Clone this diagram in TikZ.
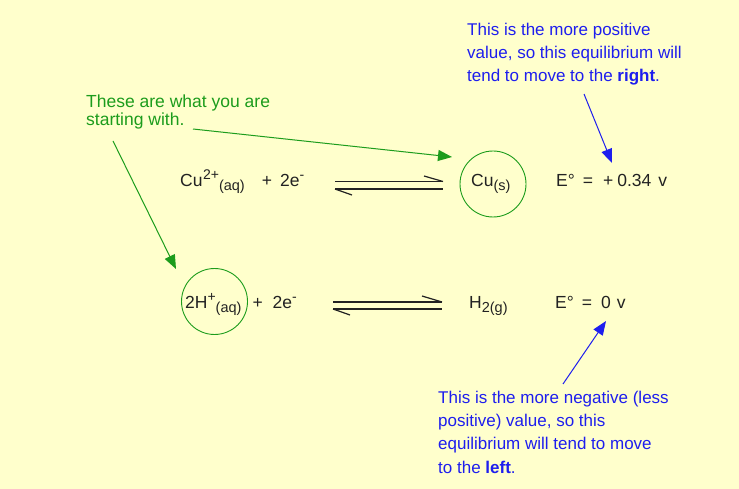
\documentclass[tikz,border=0pt]{standalone}
\usepackage{fontspec}
\setmainfont{Liberation Sans}
\usetikzlibrary{arrows.meta}
\definecolor{bg}{HTML}{FFFFCC}
\definecolor{grn}{HTML}{1C9C1C}
\definecolor{blu}{HTML}{1E1EEE}
\definecolor{ink}{HTML}{222222}
\newcommand{\myup}[1]{\raisebox{6.5pt}{\fontsize{14}{14}\selectfont #1}}
\newcommand{\mydn}[1]{\raisebox{-4pt}{\fontsize{14.5}{14.5}\selectfont #1}}
\begin{document}
\begin{tikzpicture}[x=1pt,y=-1pt,
  txt/.style={inner sep=0pt, anchor=base west, text=ink, font=\fontsize{17.5}{17.5}\selectfont},
  bnote/.style={inner sep=0pt, anchor=base west, align=left, text=blu, font=\fontsize{17}{23.3}\selectfont},
  gnote/.style={inner sep=0pt, anchor=base west, align=left, text=grn, font=\fontsize{17.5}{18}\selectfont},
  ring/.style={draw=grn, line width=0.9pt, circle, minimum size=66pt, inner sep=0pt},
  garrow/.style={draw=grn, line width=1pt, -{Triangle[length=14pt,width=11pt]}},
  barrow/.style={draw=blu, line width=1pt, -{Triangle[length=14pt,width=11pt]}},
  eqline/.style={draw=ink, line width=1.2pt}]
\fill[bg] (0,0) rectangle (739,489);
\useasboundingbox (0,0) rectangle (739,489);

% row 1
\node[txt] (cu2) at (180,186.5) {Cu\hspace{0.5pt}\myup{2+}\mydn{(aq)}\hspace{17pt}+\hspace{8pt}2e\myup{-}};
\node[txt] (cus) at (471,186.5) {Cu\mydn{(s)}};
\node[ring] (ring1) at (493,184) {};
\node[txt] (e1) at (556,186.5) {E°\hspace{8pt}=\hspace{10pt}+\hspace{4pt}0.34\hspace{7pt}v};

% row 2
\node[txt] (h2p) at (185,308.5) {2H\myup{+}\mydn{(aq)}\hspace{11pt}+\hspace{10pt}2e\myup{-}};
\node[txt] (h2g) at (469,308.5) {H\mydn{2(g)}};
\node[ring] (ring2) at (214.5,301.5) {};
\node[txt] (e2) at (555,308.5) {E°\hspace{8pt}=\hspace{9pt}0\hspace{6pt}v};

% equilibrium arrows row 1
\coordinate (a1) at (335,181.5); \coordinate (b1) at (443,181.5);
\coordinate (c1) at (335,189);   \coordinate (d1) at (443,189);
\coordinate (p1) at (424,176);   \coordinate (q1) at (352,195);
\draw[eqline] (a1) -- (b1);
\draw[eqline] (c1) -- (d1);
\draw[eqline] (p1) -- (b1);
\draw[eqline] (q1) -- (c1);

% equilibrium arrows row 2
\coordinate (a2) at (333,302); \coordinate (b2) at (442,302);
\coordinate (c2) at (333,309); \coordinate (d2) at (442,309);
\coordinate (p2) at (422,296); \coordinate (q2) at (350,315);
\draw[eqline] (a2) -- (b2);
\draw[eqline] (c2) -- (d2);
\draw[eqline] (p2) -- (b2);
\draw[eqline] (q2) -- (c2);

% green note and arrows
\node[gnote] (gtxt) at (86,125.7) {These are what you are\\starting with.};
\coordinate (g1s) at (193,129); \coordinate (g1e) at (452,157);
\coordinate (g2s) at (113,141); \coordinate (g2e) at (176,269);
\draw[garrow] (g1s) -- (g1e);
\draw[garrow] (g2s) -- (g2e);

% blue notes and arrows
\node[bnote] (btxt1) at (467,82) {This is the more positive\\value, so this equilibrium will\\tend to move to the \textbf{right}.};
\node[bnote] (btxt2) at (438,473) {This is the more negative (less\\positive) value, so this\\equilibrium will tend to move\\to the \textbf{left}.};
\coordinate (b1s) at (584,94);  \coordinate (b1e) at (612,163);
\coordinate (b2s) at (563,384); \coordinate (b2e) at (606,321);
\draw[barrow] (b1s) -- (b1e);
\draw[barrow] (b2s) -- (b2e);
\end{tikzpicture}
\end{document}
